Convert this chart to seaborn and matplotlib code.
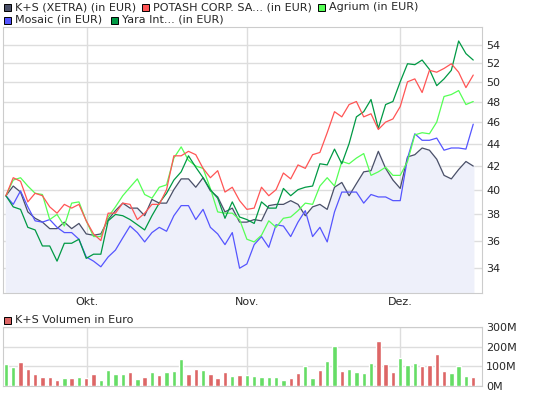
import numpy as np
import pandas as pd
import matplotlib
matplotlib.use("Agg")
import matplotlib.pyplot as plt
import seaborn as sns
from matplotlib.patches import Rectangle
from matplotlib.ticker import FixedLocator, NullLocator

# price series (EUR), one value per trading day
ks = [39.5, 40.3, 39.8, 38.2, 37.7, 37.4, 36.9, 36.9, 37.4, 36.9, 37.3, 36.5, 36.4, 36.5, 37.6, 38.3,
      38.9, 38.5, 38.5, 37.9, 39.2, 38.9, 38.9, 40.0, 40.9, 40.9, 40.2, 41.0, 39.9, 39.4, 38.2, 38.5,
      37.4, 37.4, 37.6, 37.5, 38.7, 38.8, 38.8, 39.1, 38.8, 37.9, 38.6, 38.8, 38.4, 40.2, 40.6, 39.5,
      40.5, 41.5, 41.6, 43.3, 41.8, 40.8, 40.1, 42.8, 43.0, 43.6, 43.4, 42.6, 41.2, 40.9, 41.7, 42.4, 42.0]
potash = [39.5, 41.0, 40.7, 39.0, 39.7, 39.5, 38.6, 38.1, 38.8, 38.5, 38.8, 37.5, 36.5, 36.0, 38.1, 38.1,
          38.9, 38.8, 37.6, 38.1, 38.8, 38.8, 40.0, 42.9, 42.9, 43.3, 43.0, 41.8, 41.0, 41.6, 39.8, 40.2,
          39.1, 38.4, 38.5, 40.2, 39.5, 40.0, 41.4, 40.9, 42.1, 41.8, 43.0, 43.2, 45.0, 47.0, 46.5, 47.7,
          48.0, 46.5, 46.8, 45.3, 46.0, 46.3, 47.5, 50.0, 50.3, 48.9, 51.2, 51.0, 51.4, 51.9, 51.0, 49.4, 50.7]
agrium = [39.5, 40.8, 41.0, 40.3, 39.7, 39.6, 37.6, 38.0, 37.1, 38.9, 39.0, 37.5, 36.3, 36.3, 37.8, 38.6,
          39.5, 40.2, 40.9, 39.6, 39.3, 40.2, 40.4, 42.7, 43.7, 42.5, 42.0, 41.8, 40.1, 38.2, 38.1, 38.1,
          37.6, 36.1, 35.9, 36.4, 37.5, 37.0, 37.7, 37.8, 38.3, 38.9, 38.8, 40.3, 41.0, 40.3, 42.4, 42.2,
          42.7, 43.1, 41.2, 41.5, 41.9, 41.2, 41.2, 42.4, 44.8, 45.0, 44.9, 46.0, 48.5, 48.7, 49.1, 47.7, 48.0]
mosaic = [39.5, 38.8, 39.9, 38.6, 37.5, 37.4, 37.6, 37.0, 36.6, 36.6, 36.1, 34.8, 34.5, 34.1, 34.8, 35.3,
          36.2, 37.1, 36.6, 35.9, 36.6, 37.0, 36.7, 37.9, 38.7, 38.7, 37.6, 38.4, 37.0, 36.5, 35.7, 36.6,
          34.0, 34.3, 35.7, 36.3, 35.5, 37.2, 37.1, 36.3, 37.4, 38.3, 36.3, 37.0, 35.9, 38.2, 39.8, 39.8,
          39.8, 38.9, 39.6, 39.4, 39.4, 39.1, 39.1, 42.7, 44.9, 44.3, 44.3, 44.5, 43.4, 43.6, 43.6, 43.5, 45.8]
yara = [39.5, 38.6, 38.4, 37.0, 36.8, 35.6, 35.6, 34.5, 35.8, 35.8, 36.1, 34.7, 35.0, 35.0, 37.5, 38.0,
        37.9, 37.6, 37.2, 36.8, 37.9, 38.9, 39.7, 40.8, 41.5, 42.9, 41.9, 41.0, 40.0, 39.3, 37.7, 39.0,
        37.8, 37.6, 37.3, 39.0, 38.5, 38.5, 40.1, 39.5, 40.0, 40.2, 40.3, 42.2, 42.1, 43.5, 42.2, 44.0,
        46.5, 47.0, 48.2, 45.4, 47.7, 48.0, 50.0, 51.9, 51.8, 52.3, 51.3, 49.6, 50.3, 51.2, 54.4, 53.0, 52.3]

# K+S volume in million EUR, and bar colour (g = green, r = red)
volume = [112, 95, 123, 85, 60, 44, 44, 31, 39, 39, 44, 39, 60, 31, 80, 60, 60, 72, 34, 44, 72, 55,
          72, 77, 138, 60, 85, 80, 60, 39, 72, 50, 55, 55, 50, 44, 44, 44, 31, 39, 65, 100, 39, 80,
          126, 203, 77, 85, 72, 65, 118, 230, 112, 72, 141, 106, 118, 100, 106, 164, 77, 65, 100, 50, 44]
bar_dir = list("ggrrrrrrgr" "grrggggrgr" "grgggrrgrr" "rgrggggggr" "rggrggrggg" "grrrgggrrr" "rgggr")

month_ticks = [11.1, 33.0, 54.0]
month_labels = ["Okt.", "Nov.", "Dez."]

series = {
    "K+S (XETRA) (in EUR)": (ks, "#4a5068"),
    "POTASH CORP. SA... (in EUR)": (potash, "#ff5555"),
    "Agrium (in EUR)": (agrium, "#55ff55"),
    "Mosaic (in EUR)": (mosaic, "#5555ff"),
    "Yara Int... (in EUR)": (yara, "#009944"),
}
bar_colors = {"g": "#66dd66", "r": "#dd6666"}

sns.set_style("white")
plt.rcParams["font.family"] = ["DejaVu Sans"]
fig = plt.figure(figsize=(5.45, 4.08), dpi=100)
ax = fig.add_axes([3 / 545, 115 / 408, 479 / 545, 266 / 408])
axv = fig.add_axes([3 / 545, 22 / 408, 479 / 545, 59 / 408])

x = np.arange(len(ks))
ax.fill_between(x, ks, 30, color="#eef0fa", zorder=1)
df = pd.DataFrame({name: vals for name, (vals, _) in series.items()})
df["day"] = x
long = df.melt(id_vars="day", var_name="series", value_name="price")
order = ["K+S (XETRA) (in EUR)", "Mosaic (in EUR)", "Agrium (in EUR)", "Yara Int... (in EUR)", "POTASH CORP. SA... (in EUR)"]
sns.lineplot(data=long, x="day", y="price", hue="series", hue_order=order,
             palette={k: c for k, (_, c) in series.items()}, ax=ax, linewidth=0.9, legend=False, zorder=3)
ax.set_yscale("log")
ax.set_ylim(32.3, 56)
ax.set_xlim(-0.4, 65.2)
ax.yaxis.set_major_locator(FixedLocator(list(range(34, 56, 2))))
ax.yaxis.set_minor_locator(NullLocator())
ax.set_yticklabels([str(v) for v in range(34, 56, 2)])
ax.set_xticks(month_ticks)
ax.set_xticklabels(month_labels)

axv.bar(x, volume, width=0.6, color=[bar_colors[d] for d in bar_dir], zorder=3)
axv.set_xlim(-0.4, 65.2)
axv.set_ylim(0, 300)
axv.set_yticks([0, 100, 200, 300])
axv.set_yticklabels(["0M", "100M", "200M", "300M"])
axv.set_xticks(month_ticks)
axv.set_xticklabels([])

for a in (ax, axv):
    a.set_xlabel("")
    a.set_ylabel("")
    a.yaxis.tick_right()
    a.grid(True, color="#dddddd", linewidth=1, zorder=0)
    a.set_axisbelow(True)
    a.tick_params(length=0, labelsize=8, pad=3)
    for s in a.spines.values():
        s.set_color("#cccccc")

# legends drawn as little squares with text
leg = [("K+S (XETRA) (in EUR)", 4, 7), ("POTASH CORP. SA... (in EUR)", 142, 7), ("Agrium (in EUR)", 318, 7),
       ("Mosaic (in EUR)", 4, 20), ("Yara Int... (in EUR)", 111, 20)]
for name, px, py in leg:
    fig.patches.append(Rectangle((px / 545, (408 - py - 4) / 408), 7 / 545, 7 / 408, transform=fig.transFigure,
                                 facecolor=series[name][1], edgecolor="black", linewidth=0.7))
    fig.text((px + 11) / 545, (408 - py) / 408, name, fontsize=8, va="center")
fig.patches.append(Rectangle((4 / 545, (408 - 320 - 4) / 408), 7 / 545, 7 / 408, transform=fig.transFigure,
                             facecolor="#dd6666", edgecolor="black", linewidth=0.7))
fig.text(15 / 545, (408 - 320) / 408, "K+S Volumen in Euro", fontsize=8, va="center")

fig.savefig("out.png", dpi=100)
